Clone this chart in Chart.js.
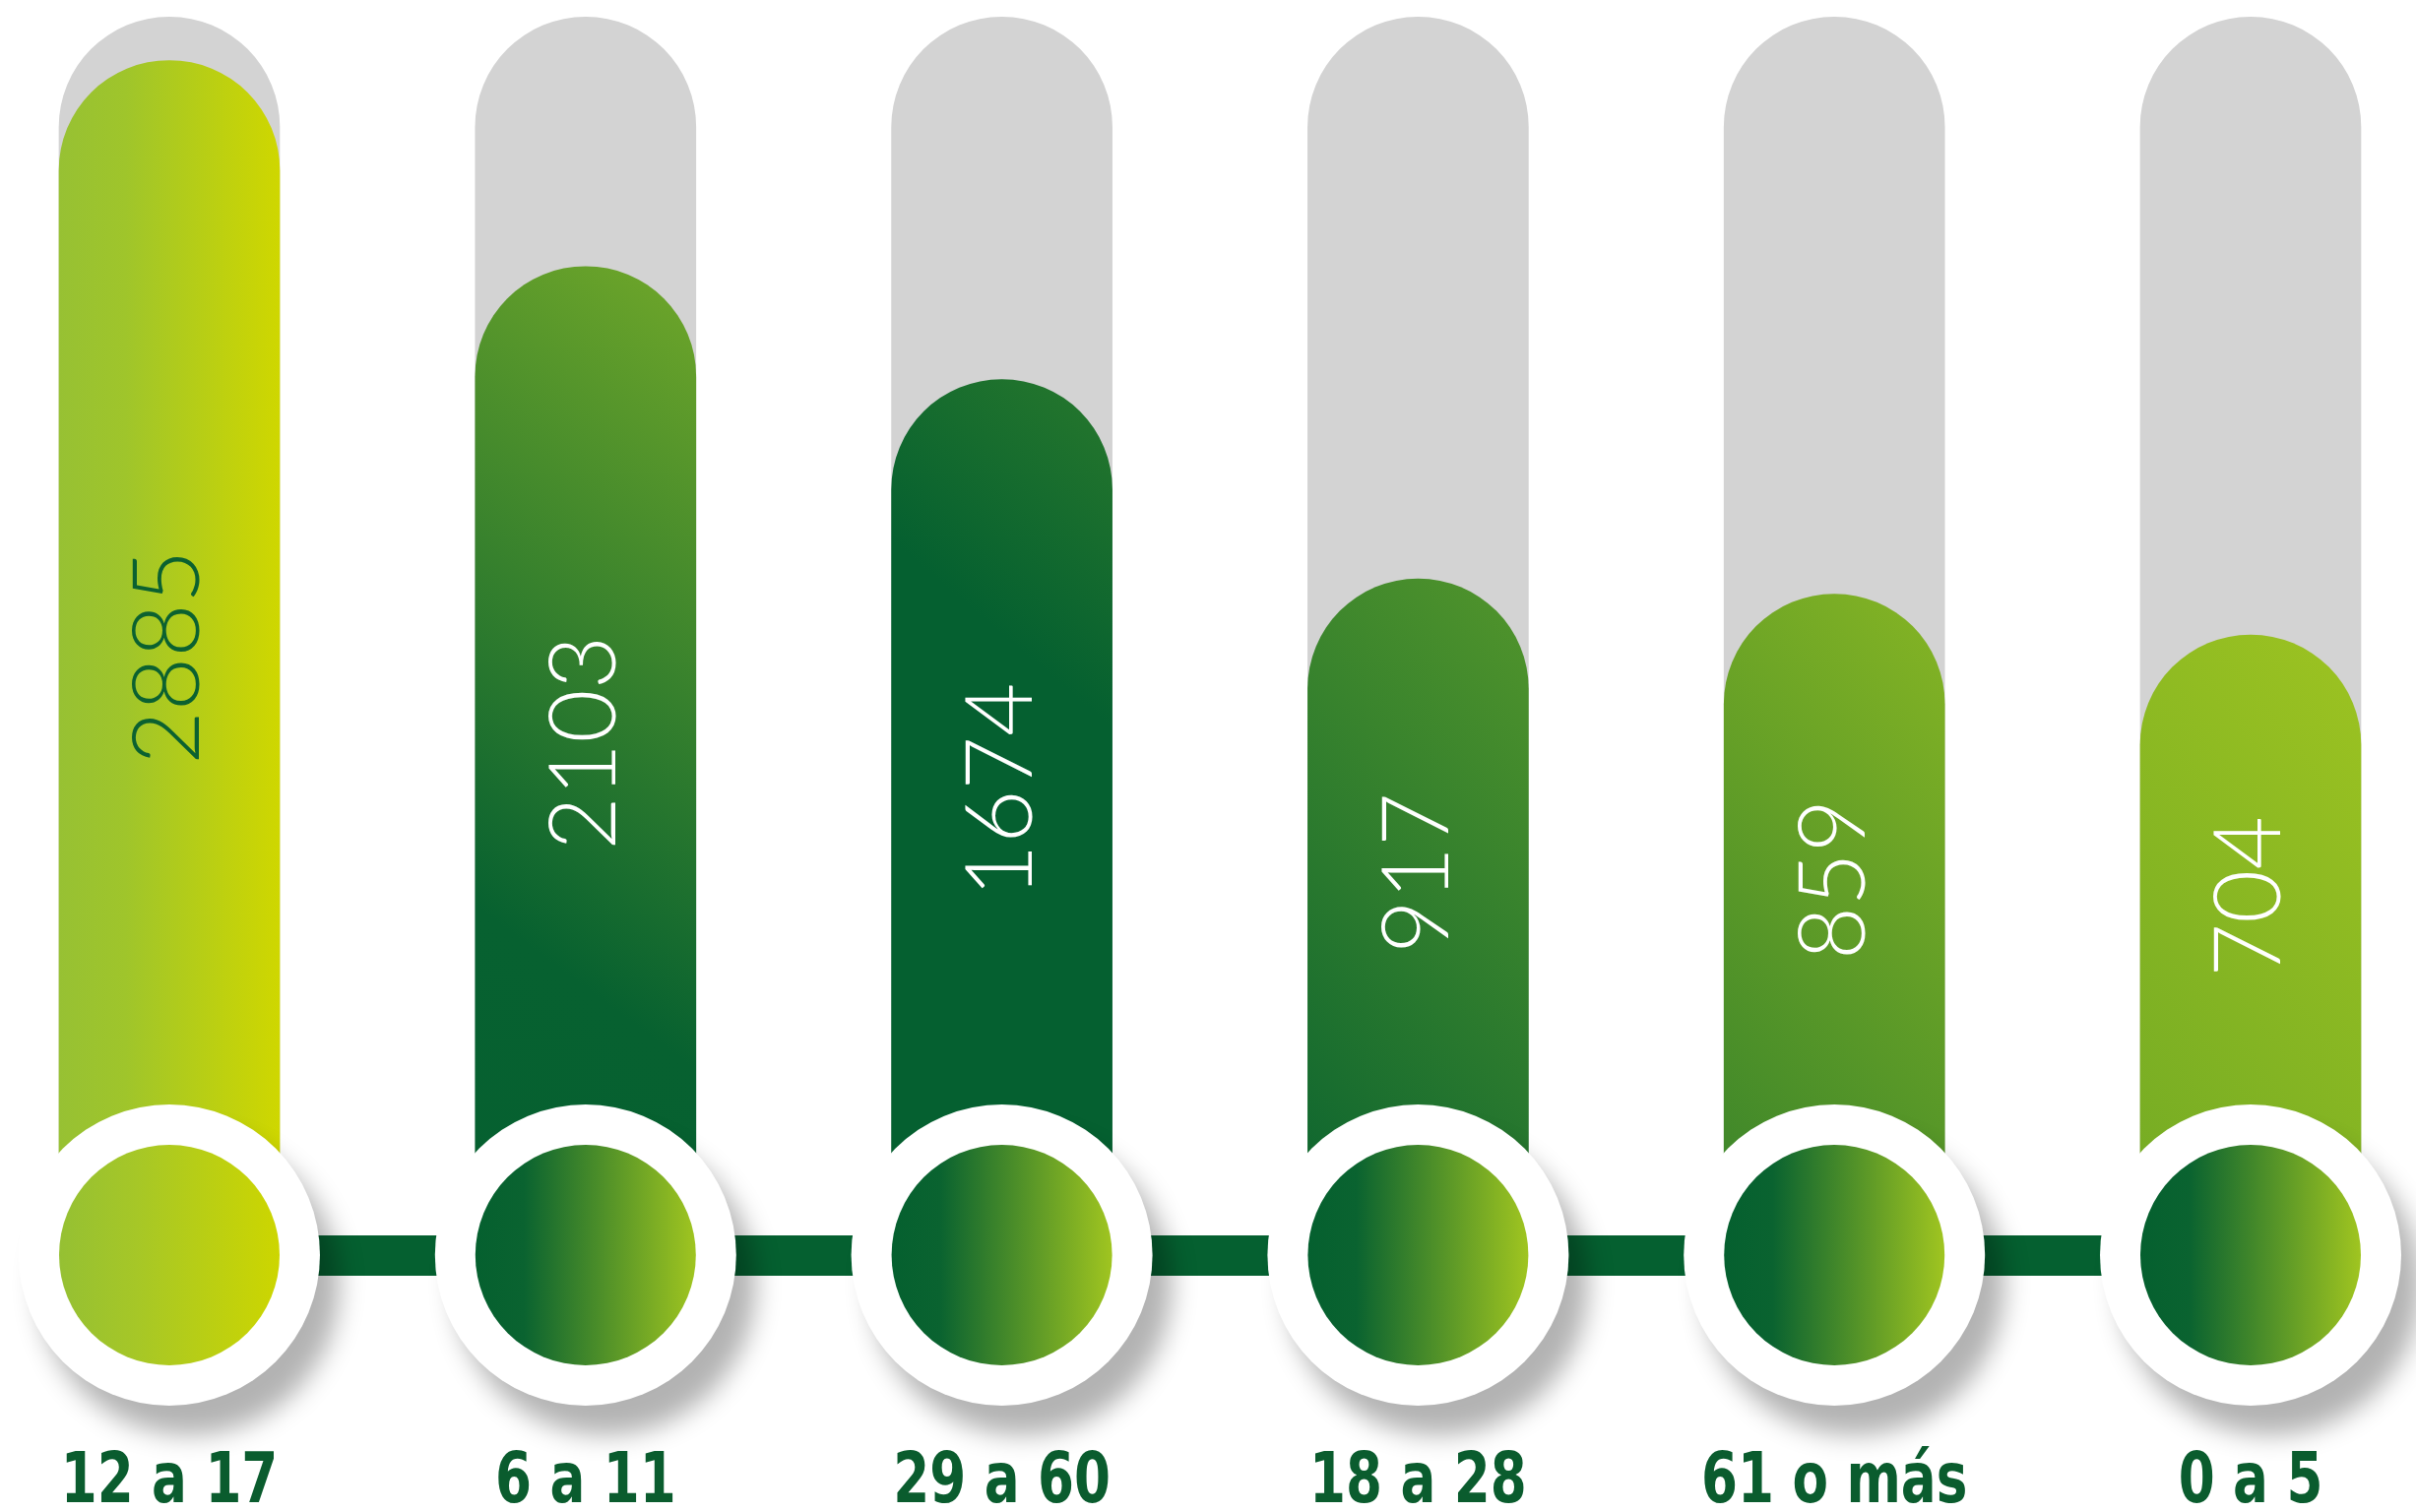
<!DOCTYPE html>
<html>
<head>
<meta charset="utf-8">
<script src="https://cdn.jsdelivr.net/npm/chart.js@4.4.1/dist/chart.umd.min.js"></script>
<style>
  html, body { margin: 0; padding: 0; background: #fff; }
  #wrap { width: 2454px; height: 1536px; position: relative; }
</style>
</head>
<body>
<div id="wrap"><canvas id="grupos"></canvas></div>
<script>
// datos
const categories = ['12 a 17', '6 a 11', '29 a 60', '18 a 28', '61 o más', '0 a 5'];
const values = [2885, 2103, 1674, 917, 859, 704];
const track = [3050, 3050, 3050, 3050, 3050, 3050];
const axisMin = -1650;
const axisMax = 3100;

// estilos
const HALF = 112;     // media anchura de barra
const RING = 153;     // radio del disco blanco
const barGradients = [
  { horizontal: true, stops: [[0, '#97c133'], [0.3, '#9fc52b'], [1, '#cfd700']] },
  { stops: [[0, '#056030'], [0.3, '#076130'], [1, '#86b628']] },
  { stops: [[0, '#056030'], [0.6, '#056030'], [1, '#3a852a']] },
  { stops: [[0, '#056030'], [0.12, '#0a6330'], [1, '#66a32a']] },
  { stops: [[0, '#2a7a2c'], [1, '#9cc322']] },
  { stops: [[0, '#6aa525'], [1, '#aacb20']] }
];
const diskGradients = [
  [[0, '#95c033'], [0.35, '#a6c727'], [1, '#cdd600']],
  [[0, '#05602f'], [0.22, '#0a6330'], [1, '#a0c520']],
  [[0, '#05602f'], [0.22, '#0a6330'], [1, '#a0c520']],
  [[0, '#05602f'], [0.22, '#0a6330'], [1, '#a0c520']],
  [[0, '#05602f'], [0.22, '#0a6330'], [1, '#a0c520']],
  [[0, '#05602f'], [0.22, '#0a6330'], [1, '#a0c520']]
];
const valueColors = ['#0b6130', '#fff', '#fff', '#fff', '#fff', '#fff'];

function barFill(ctx) {
  const chart = ctx.chart;
  const xs = chart.scales.x, ys = chart.scales.y;
  if (ctx.type !== 'data' || !chart.chartArea || !xs || !ys) return '#056030';
  const i = ctx.dataIndex;
  const cx = xs.getPixelForValue(i);
  const top = ys.getPixelForValue(values[i]);
  const bottom = ys.getPixelForValue(axisMin) - 100;
  const g = barGradients[i];
  const grad = g.horizontal
    ? chart.ctx.createLinearGradient(cx - HALF, 0, cx + HALF, 0)
    : chart.ctx.createLinearGradient(cx - 3 * HALF, bottom, cx + 3 * HALF, top);
  g.stops.forEach(([o, c]) => grad.addColorStop(o, c));
  return grad;
}

const decor = {
  id: 'decor',
  afterDatasetsDraw(chart) {
    const c = chart.ctx;
    const xs = chart.scales.x, ys = chart.scales.y;
    const cy = ys.getPixelForValue(axisMin);
    const px = categories.map((_, i) => xs.getPixelForValue(i));
    c.save();

    // conector
    c.fillStyle = '#056030';
    c.fillRect(px[0], cy - 20, px[px.length - 1] - px[0], 41);

    // discos blancos con sombra
    px.forEach(x => {
      c.save();
      c.shadowColor = 'rgba(0,0,0,0.3)';
      c.shadowBlur = 26;
      c.shadowOffsetX = 20;
      c.shadowOffsetY = 30;
      c.beginPath();
      c.arc(x, cy, RING, 0, Math.PI * 2);
      c.fillStyle = '#fff';
      c.fill();
      c.restore();
    });

    // discos interiores
    px.forEach((x, i) => {
      const grad = c.createLinearGradient(x - HALF, 0, x + HALF, 0);
      diskGradients[i].forEach(([o, col]) => grad.addColorStop(o, col));
      c.beginPath();
      c.arc(x, cy, HALF, 0, Math.PI * 2);
      c.fillStyle = grad;
      c.fill();
    });

    // valores en vertical
    c.font = '300 94px Lato, "DejaVu Sans", sans-serif';
    c.textAlign = 'center';
    c.textBaseline = 'middle';
    values.forEach((v, i) => {
      const top = ys.getPixelForValue(v);
      const mid = 642 + 0.4165 * top;
      c.save();
      c.translate(px[i], mid);
      c.rotate(-Math.PI / 2);
      c.fillStyle = valueColors[i];
      c.fillText(String(v), 0, 0);
      c.restore();
    });

    // etiquetas de grupo (estrechadas)
    c.font = 'bold 72px "Liberation Sans Narrow", "DejaVu Sans Condensed", "Open Sans", sans-serif';
    c.textBaseline = 'alphabetic';
    c.fillStyle = '#0a5c2e';
    categories.forEach((t, i) => {
      c.save();
      c.translate(px[i], 1526);
      c.scale(0.82, 1);
      c.fillText(t, 0, 0);
      c.restore();
    });

    c.restore();
  }
};

new Chart(document.getElementById('grupos'), {
  type: 'bar',
  data: {
    labels: categories,
    datasets: [
      {
        data: values,
        backgroundColor: barFill,
        base: axisMin,
        order: 0,
        clip: false
      },
      {
        data: track,
        backgroundColor: '#d3d3d3',
        base: axisMin,
        order: 1,
        clip: false
      }
    ]
  },
  options: {
    responsive: true,
    maintainAspectRatio: false,
    animation: false,
    events: [],
    layout: { padding: { left: 172, right: 168, top: 4, bottom: 261 } },
    datasets: {
      bar: {
        grouped: false,
        barThickness: 224,
        borderRadius: HALF,
        borderSkipped: 'start'
      }
    },
    scales: {
      x: { type: 'category', offset: false, display: false },
      y: { min: axisMin, max: axisMax, display: false }
    },
    plugins: {
      legend: { display: false },
      tooltip: { enabled: false }
    }
  },
  plugins: [decor]
});
</script>
</body>
</html>
